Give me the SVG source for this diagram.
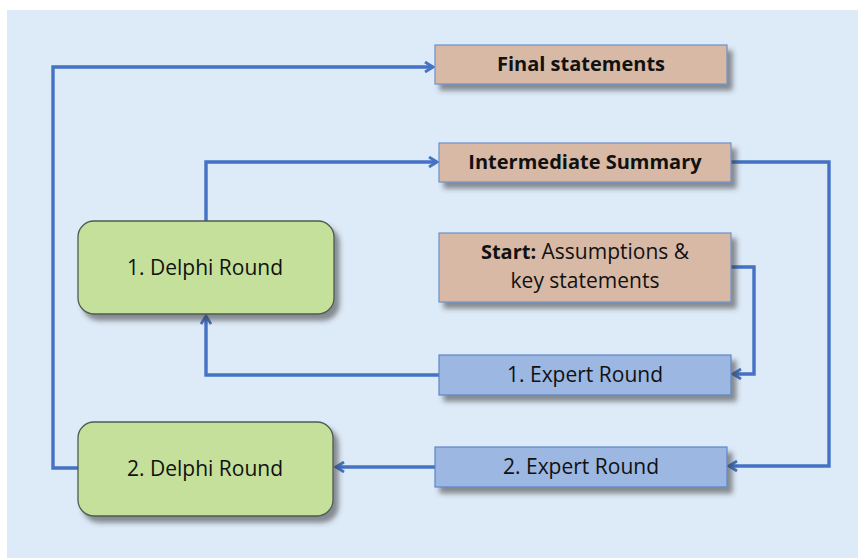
<svg xmlns="http://www.w3.org/2000/svg" width="858" height="558" viewBox="0 0 858 558">
<defs>
<filter id="sh" x="-10%" y="-20%" width="130%" height="160%">
<feDropShadow dx="5" dy="6" stdDeviation="2.5" flood-color="#3a3a3a" flood-opacity="0.55"/>
</filter>
<marker id="ah" viewBox="0 0 12 12" refX="10" refY="6" markerWidth="12" markerHeight="12" markerUnits="userSpaceOnUse" orient="auto">
<path d="M2,1 L10,6 L2,11" fill="none" stroke="#4472C4" stroke-width="2.8" stroke-linejoin="miter"/>
</marker>
<style>
.t{font-family:"Open Sans","Noto Sans",sans-serif;font-size:21px;fill:#111111;text-anchor:middle}
.b{font-weight:bold;font-size:20px}
.brown{fill:#D8B9A5;stroke:#6E8FC9;stroke-width:1.2}
.blue{fill:#9CB7E1;stroke:#5F86C6;stroke-width:1.2}
.green{fill:#C4E09A;stroke:#4F5B52;stroke-width:1.3}
.c{fill:none;stroke:#4472C4;stroke-width:3.4;marker-end:url(#ah)}
</style>
</defs>
<rect x="0" y="0" width="858" height="558" fill="#ffffff"/>
<rect x="7" y="10" width="851" height="548" fill="#DDEAF7"/>
<g id="connectors">
<path class="c" d="M78,468 H53 V67 H433"/>
<path class="c" d="M206,221 V162 H437"/>
<path class="c" d="M731,162 H829 V466 H729"/>
<path class="c" d="M731,267 H754 V374 H733"/>
<path class="c" d="M439,375 H206 V316"/>
<path class="c" d="M435,467 H336"/>
</g>
<g id="final-statements">
<rect class="brown" x="435" y="45" width="292" height="39" filter="url(#sh)"/>
<text class="t b" x="581" y="71">Final statements</text>
</g>
<g id="intermediate-summary">
<rect class="brown" x="439" y="143" width="292" height="39" filter="url(#sh)"/>
<text class="t b" x="585" y="169">Intermediate Summary</text>
</g>
<g id="start">
<rect class="brown" x="439" y="233" width="292" height="69" filter="url(#sh)"/>
<text class="t" x="585" y="259"><tspan font-weight="bold" font-size="20">Start:</tspan> Assumptions &amp;</text>
<text class="t" x="585" y="288">key statements</text>
</g>
<g id="expert-round-1">
<rect class="blue" x="439" y="355" width="292" height="40" filter="url(#sh)"/>
<text class="t" x="585" y="382">1. Expert Round</text>
</g>
<g id="expert-round-2">
<rect class="blue" x="435" y="447" width="292" height="40" filter="url(#sh)"/>
<text class="t" x="581" y="474">2. Expert Round</text>
</g>
<g id="delphi-round-1">
<rect class="green" x="78" y="221" width="256" height="93" rx="16" filter="url(#sh)"/>
<text class="t" x="205" y="275">1. Delphi Round</text>
</g>
<g id="delphi-round-2">
<rect class="green" x="78" y="422" width="255" height="94" rx="16" filter="url(#sh)"/>
<text class="t" x="205" y="476">2. Delphi Round</text>
</g>
</svg>
